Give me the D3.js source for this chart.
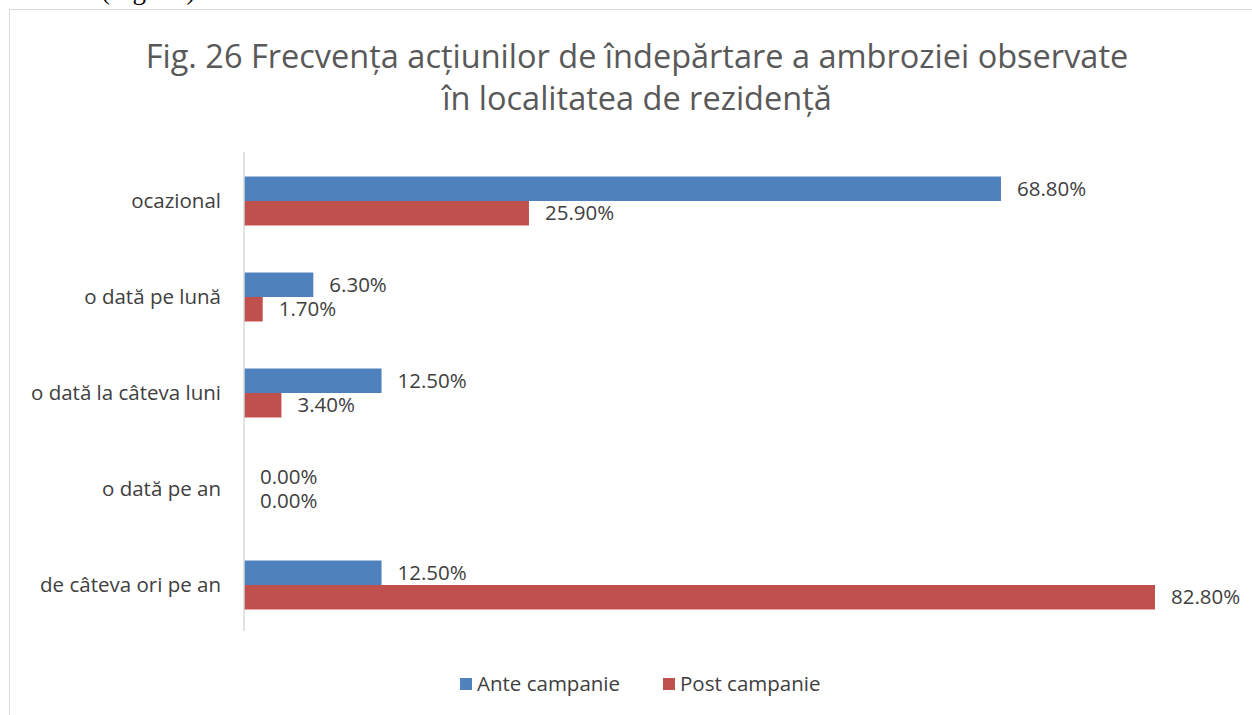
<!DOCTYPE html>
<html>
<head>
<meta charset="utf-8">
<script src="https://cdn.jsdelivr.net/npm/d3@7"></script>
<style>
  body { margin: 0; background: #fff; }
  svg { display: block; }
  text { font-family: "Open Sans", "Noto Sans", sans-serif; }
</style>
</head>
<body>
<div class="container"></div>
<script>
// window size
const width = 1252;
const height = 715;
const margin = { top: 153, bottom: 82, left: 244, right: 97 };

// chart data
const titleLines = ["Fig. 26 Frecvența acțiunilor de îndepărtare a ambroziei observate", "în localitatea de rezidență"];
const categories = ["ocazional", "o dată pe lună", "o dată la câteva luni", "o dată pe an", "de câteva ori pe an"];
const seriesNames = ["Ante campanie", "Post campanie"];
const anteValues = [68.8, 6.3, 12.5, 0, 12.5];
const postValues = [25.9, 1.7, 3.4, 0, 82.8];
const colors = ["#4f81bd", "#c0504d"];

const svg = d3.select(".container")
  .append("svg")
  .attr("width", width)
  .attr("height", height);

// caption from the page above the chart (cut off by the crop, as in the source)
svg.append("text")
  .attr("x", 101)
  .attr("y", -1)
  .style("font-family", "'Liberation Serif', serif")
  .attr("font-size", 27)
  .attr("fill", "#000")
  .text("(Fig. 26)");

// chart border
svg.append("rect")
  .attr("x", 9.5)
  .attr("y", 9.5)
  .attr("width", width + 10)
  .attr("height", height + 10)
  .attr("fill", "none")
  .attr("stroke", "#d9d9d9");

// title
svg.append("g")
  .selectAll("text")
  .data(titleLines)
  .join("text")
  .attr("x", 637)
  .attr("y", (d, i) => 68 + i * 42)
  .attr("text-anchor", "middle")
  .attr("font-size", 32.5)
  .attr("fill", "#595959")
  .text(d => d);

// scales
const xScale = d3.scaleLinear()
  .domain([0, 82.8])
  .range([margin.left, 1155]);

const yScale = d3.scaleBand()
  .domain(categories)
  .range([margin.top, height - margin.bottom])
  .paddingInner(0.49)
  .paddingOuter(0.245);

const subScale = d3.scaleBand()
  .domain(seriesNames)
  .range([0, yScale.bandwidth()]);

const rows = categories.map((c, i) => ({ cat: c, values: [anteValues[i], postValues[i]] }));

// bars
const groups = svg.append("g")
  .selectAll("g")
  .data(rows)
  .join("g")
  .attr("transform", d => `translate(0, ${yScale(d.cat)})`);

groups.selectAll("rect")
  .data(d => d.values.map((v, j) => ({ v, s: seriesNames[j], j })))
  .join("rect")
  .attr("x", xScale(0))
  .attr("y", d => subScale(d.s))
  .attr("width", d => xScale(d.v) - xScale(0))
  .attr("height", subScale.bandwidth())
  .attr("fill", d => colors[d.j]);

// value labels
groups.selectAll("text")
  .data(d => d.values.map((v, j) => ({ v, s: seriesNames[j] })))
  .join("text")
  .attr("x", d => xScale(d.v) + 16)
  .attr("y", d => subScale(d.s) + subScale.bandwidth() / 2)
  .attr("dy", "0.35em")
  .attr("font-size", 20.5)
  .attr("fill", "#404040")
  .text(d => d.v.toFixed(2) + "%");

// y axis
const yAxis = svg.append("g")
  .attr("transform", `translate(${margin.left}, 0)`)
  .call(d3.axisLeft(yScale).tickSize(0).tickPadding(23));

yAxis.select(".domain")
  .attr("stroke", "#d9d9d9")
  .attr("stroke-width", 1.5)
  .attr("d", `M0,${margin.top - 1}V${height - margin.bottom - 2}`);

yAxis.selectAll("text")
  .attr("font-size", 20.5)
  .attr("fill", "#404040")
  .style("font-family", "'Open Sans', sans-serif");

// legend
const legendX = [460, 663];
const legend = svg.append("g")
  .selectAll("g")
  .data(seriesNames)
  .join("g")
  .attr("transform", (d, i) => `translate(${legendX[i]}, 684)`);

legend.append("rect")
  .attr("x", 0)
  .attr("y", -6)
  .attr("width", 12)
  .attr("height", 12)
  .attr("fill", (d, i) => colors[i]);

legend.append("text")
  .attr("x", 17)
  .attr("dy", "0.35em")
  .attr("font-size", 20.5)
  .attr("fill", "#404040")
  .text(d => d);
</script>
</body>
</html>
